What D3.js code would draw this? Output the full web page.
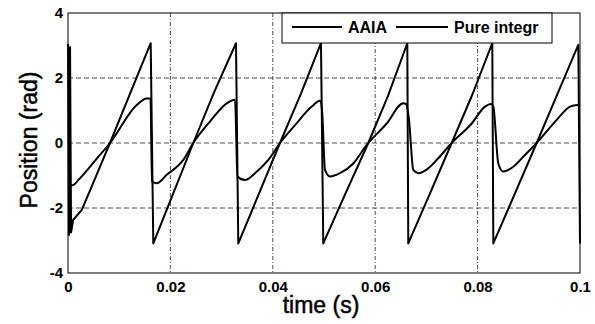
<!DOCTYPE html>
<html>
<head>
<meta charset="utf-8">
<script src="https://cdn.jsdelivr.net/npm/d3@7/dist/d3.min.js"></script>
<style>
  html, body { margin: 0; padding: 0; background: #fff; }
  svg { display: block; }
  text { font-family: "Liberation Sans", Arial, sans-serif; fill: #000; }
</style>
</head>
<body>
<svg id="chart" width="595" height="324"></svg>
<script>
// ---- data ----
const timeTicks = [0, 0.02, 0.04, 0.06, 0.08, 0.1];
const timeTickLabels = ["0", "0.02", "0.04", "0.06", "0.08", "0.1"];
const posTicks = [-4, -2, 0, 2, 4];
const posTickLabels = ["-4", "-2", "0", "2", "4"];
const seriesNames = ["AAIA", "Pure integr"];

// large wrapped sawtooth
const sawT = [0, 0.0002, 0.0004, 0.0006, 0.0010, 0.0027, 0.0055, 0.0082, 0.0120, 0.01615,
  0.01666, 0.0205, 0.02447, 0.0285, 0.03281,
  0.03326, 0.0374, 0.0414, 0.0455, 0.04941,
  0.04986, 0.0542, 0.05865, 0.0625, 0.06627,
  0.06646, 0.0707, 0.07494, 0.0790, 0.08287,
  0.08307, 0.0873, 0.09154, 0.0957, 0.09967, 0.1];
const sawV = [3.05, -2.83, 2.95, -2.75, -2.37, -2.06, -1.01, 0, 1.47, 3.07,
  -3.09, -1.57, 0, 1.55, 3.07,
  -3.09, -1.52, 0, 1.52, 3.07,
  -3.09, -1.55, 0, 1.45, 3.07,
  -3.09, -1.55, 0, 1.5, 3.07,
  -3.09, -1.55, 0, 1.55, 3.02, -3.09];

// smaller curved estimate
const estT = [0.0005, 0.00104, 0.00201, 0.0053, 0.0082, 0.01342, 0.01537, 0.01611,
  0.01641, 0.01732, 0.01928, 0.02252, 0.02447, 0.02773, 0.03100, 0.03262,
  0.0331, 0.03457, 0.03652, 0.03912, 0.04141, 0.04434, 0.0476, 0.04922,
  0.04961, 0.0502, 0.05117, 0.05313, 0.05572, 0.05834, 0.06225, 0.06549, 0.06602,
  0.0666, 0.06744, 0.06842, 0.07037, 0.07232, 0.07494, 0.07885, 0.08145, 0.08262,
  0.08307, 0.08404, 0.08502, 0.08697, 0.08893, 0.09154, 0.09545, 0.09805, 0.09947, 0.1];
const estV = [-1.30, -1.29, -1.14, -0.54, 0, 1.17, 1.37, 1.37,
  -1.19, -1.24, -0.98, -0.52, 0, 0.66, 1.22, 1.33,
  -1.03, -1.14, -0.93, -0.52, 0, 0.55, 1.12, 1.30,
  1.02, -0.83, -1.03, -0.93, -0.63, -0.06, 0.6, 1.22, 1.2,
  0.71, -0.83, -0.93, -0.78, -0.47, 0, 0.6, 1.12, 1.2,
  1.12, -0.63, -0.88, -0.73, -0.42, 0, 0.71, 1.12, 1.17, 1.14];

// ---- layout ----
const svg = d3.select("#chart");
const m = { left: 68, top: 13, right: 580, bottom: 273 };
const x = d3.scaleLinear().domain([0, 0.1]).range([m.left, m.right]);
const y = d3.scaleLinear().domain([-4, 4]).range([m.bottom, m.top]);

svg.append("rect").attr("width", 595).attr("height", 324).attr("fill", "#fff");

// grid
const grid = svg.append("g");
grid.selectAll("line.v").data(timeTicks.slice(1, -1)).enter().append("line")
  .attr("x1", d => x(d)).attr("x2", d => x(d))
  .attr("y1", m.top).attr("y2", m.bottom)
  .attr("stroke", "#222").attr("stroke-width", 0.8)
  .attr("stroke-dasharray", "4,2,1,2");
grid.selectAll("line.h").data(posTicks.slice(1, -1)).enter().append("line")
  .attr("x1", m.left).attr("x2", m.right)
  .attr("y1", d => y(d)).attr("y2", d => y(d))
  .attr("stroke", "#222").attr("stroke-width", 0.8)
  .attr("stroke-dasharray", "5,3");

// axes
const xAxis = d3.axisBottom(x).tickValues(timeTicks).tickSize(0)
  .tickFormat((d, i) => timeTickLabels[i]);
const gx = svg.append("g").attr("transform", `translate(0,${m.bottom})`).call(xAxis);
gx.select(".domain").remove();
gx.selectAll("text").attr("dy", null).attr("y", 19)
  .style("font-family", "Liberation Sans, Arial, sans-serif")
  .style("font-size", "15px").style("font-weight", "bold");

const yAxis = d3.axisLeft(y).tickValues(posTicks).tickSize(0)
  .tickFormat((d, i) => posTickLabels[i]);
const gy = svg.append("g").attr("transform", `translate(${m.left},0)`).call(yAxis);
gy.select(".domain").remove();
gy.selectAll("text").attr("x", -5)
  .style("font-family", "Liberation Sans, Arial, sans-serif")
  .style("font-size", "15px").style("font-weight", "bold");

// frame
svg.append("rect").attr("x", m.left).attr("y", m.top)
  .attr("width", m.right - m.left).attr("height", m.bottom - m.top)
  .attr("fill", "none").attr("stroke", "#000").attr("stroke-width", 1);

// series
const clipId = "plotclip";
svg.append("clipPath").attr("id", clipId).append("rect")
  .attr("x", m.left - 1).attr("y", m.top).attr("width", m.right - m.left + 2).attr("height", m.bottom - m.top);

const sawData = sawT.map((t, i) => [t, sawV[i]]);
const estData = estT.map((t, i) => [t, estV[i]]);

const lineLin = d3.line().x(d => x(d[0])).y(d => y(d[1]));
const lineSmooth = d3.line().x(d => x(d[0])).y(d => y(d[1])).curve(d3.curveMonotoneX);

svg.append("path").datum(estData).attr("d", lineSmooth)
  .attr("fill", "none").attr("stroke", "#000").attr("stroke-width", 2)
  .attr("stroke-linejoin", "round").attr("clip-path", `url(#${clipId})`);
svg.append("path").datum(sawData).attr("d", lineLin)
  .attr("fill", "none").attr("stroke", "#000").attr("stroke-width", 2)
  .attr("stroke-linejoin", "round").attr("clip-path", `url(#${clipId})`);

// legend
const lg = svg.append("g");
lg.append("rect").attr("x", 282).attr("y", 13).attr("width", 270).attr("height", 30)
  .attr("fill", "#fff").attr("stroke", "#000").attr("stroke-width", 1);
const legendItems = [
  { name: seriesNames[0], x1: 292, x2: 342, tx: 348 },
  { name: seriesNames[1], x1: 396, x2: 448, tx: 454 }
];
legendItems.forEach(it => {
  lg.append("line").attr("x1", it.x1).attr("x2", it.x2).attr("y1", 27).attr("y2", 27)
    .attr("stroke", "#000").attr("stroke-width", 2);
  lg.append("text").attr("x", it.tx).attr("y", 33)
    .style("font-size", "16px").style("font-weight", "bold").text(it.name);
});

// axis titles
svg.append("text").attr("x", 321).attr("y", 313).attr("text-anchor", "middle")
  .style("font-size", "23px").style("stroke", "#000").style("stroke-width", "0.5px")
  .text("time (s)");
svg.append("text").attr("transform", "translate(37,140) rotate(-90)")
  .attr("text-anchor", "middle").style("font-size", "23px")
  .style("stroke", "#000").style("stroke-width", "0.5px").text("Position (rad)");
</script>
</body>
</html>
